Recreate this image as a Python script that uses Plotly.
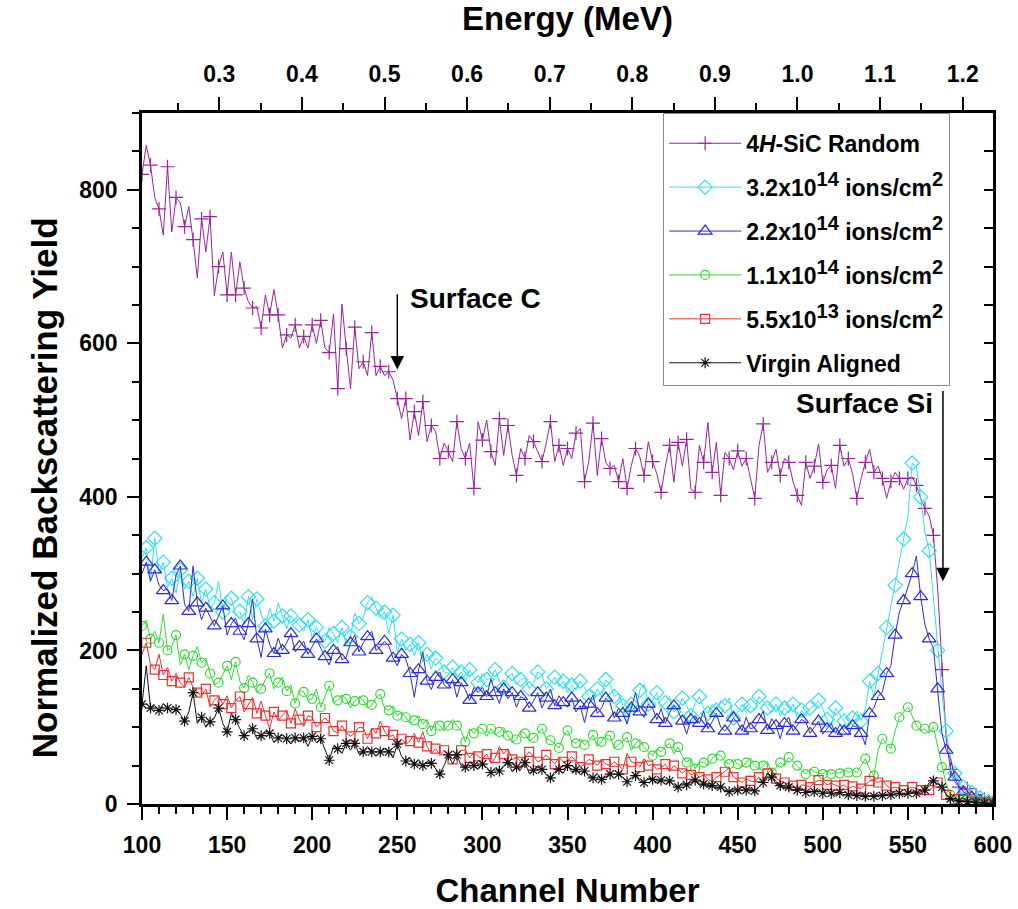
import plotly.graph_objects as go

# ---------------- data (channel step 2.5) ----------------
random_yield = [
    820, 858, 832, 790, 775, 741, 830, 745, 790, 783,
    752, 778, 735, 685, 762, 719, 765, 662, 700, 719,
    663, 719, 663, 706, 672, 654, 646, 648, 620, 663,
    637, 670, 637, 594, 611, 607, 624, 594, 609, 594,
    624, 600, 630, 594, 588, 638, 541, 651, 593, 541,
    621, 567, 576, 558, 614, 558, 570, 558, 563, 552,
    528, 502, 528, 474, 511, 480, 524, 472, 493, 485,
    450, 470, 459, 446, 498, 463, 450, 470, 411, 498,
    474, 500, 459, 441, 502, 454, 493, 454, 428, 463,
    450, 480, 472, 459, 446, 470, 498, 446, 467, 441,
    463, 450, 483, 489, 420, 446, 496, 428, 476, 445,
    437, 441, 420, 450, 411, 441, 463, 452, 428, 472,
    446, 430, 406, 440, 467, 419, 471, 440, 475, 410,
    406, 467, 445, 497, 432, 471, 402, 458, 450, 435,
    460, 440, 450, 424, 398, 467, 495, 432, 445, 462,
    428, 450, 445, 420, 402, 389, 445, 424, 440, 469,
    419, 435, 441, 411, 467, 440, 450, 430, 398, 424,
    445, 462, 432, 440, 424, 398, 420, 432, 424, 410,
    424, 426, 415, 398, 385, 375, 350, 280, 175, 85,
    45, 29, 22, 18, 20, 16, 12, 8, 6, 3,
    2]

dose_32e14 = [
    320, 334, 290, 346, 300, 315, 282, 294, 275, 305,
    280, 290, 270, 294, 262, 280, 255, 262, 290, 250,
    272, 268, 245, 251, 234, 270, 240, 267, 248, 232,
    255, 238, 262, 245, 228, 245, 238, 233, 225, 240,
    216, 230, 218, 212, 230, 222, 210, 230, 206, 218,
    249, 235, 243, 262, 270, 255, 242, 250, 222, 246,
    198, 215, 200, 208, 193, 210, 185, 195, 176, 190,
    185, 172, 170, 178, 164, 172, 160, 175, 165, 158,
    170, 162, 164, 175, 160, 152, 166, 170, 155, 162,
    164, 150, 158, 172, 168, 150, 157, 165, 153, 160,
    145, 155, 148, 160, 152, 140, 136, 150, 140, 162,
    156, 140, 144, 128, 105, 130, 119, 148, 156, 130,
    135, 145, 124, 132, 140, 120, 124, 138, 128, 115,
    131, 140, 125, 118, 130, 122, 135, 128, 138, 112,
    119, 130, 119, 128, 122, 140, 134, 125, 119, 130,
    115, 125, 118, 130, 111, 122, 115, 125, 128, 135,
    124, 110, 102, 125, 117, 108, 98, 112, 121, 108,
    124, 160, 140, 170, 197, 230, 257, 285, 320, 345,
    375, 444, 439, 400, 354, 330, 268, 200, 145, 95,
    60, 40, 28, 22, 18, 15, 12, 8, 5, 3,
    2]

dose_22e14 = [
    300, 315, 290, 305, 285, 278, 280, 265, 298, 310,
    260, 251, 310, 262, 240, 255, 244, 232, 245, 258,
    220, 235, 242, 225, 214, 235, 267, 215, 191, 228,
    208, 196, 216, 200, 210, 222, 198, 205, 212, 195,
    205, 215, 203, 192, 181, 200, 205, 188, 191, 210,
    220, 198, 210, 218, 225, 200, 205, 212, 206, 190,
    180, 195, 189, 170, 139, 175, 198, 160, 149, 165,
    172, 155, 151, 162, 139, 158, 149, 135, 152, 145,
    152, 140, 163, 145, 131, 150, 137, 145, 126, 140,
    137, 125, 134, 145, 125, 138, 150, 128, 141, 132,
    126, 138, 120, 128, 106, 130, 142, 118, 125, 138,
    132, 112, 125, 118, 104, 125, 145, 120, 113, 130,
    125, 110, 124, 105, 119, 128, 121, 108, 91, 110,
    115, 105, 121, 98, 107, 118, 100, 95, 102, 112,
    106, 95, 113, 98, 100, 110, 121, 96, 111, 102,
    85, 105, 113, 95, 102, 110, 107, 92, 100, 108,
    91, 98, 105, 92, 104, 95, 90, 102, 100, 92,
    77, 118, 125, 140, 146, 170, 180, 220, 250, 265,
    282, 300, 323, 270, 234, 215, 203, 150, 92, 70,
    59, 35, 22, 16, 12, 9, 6, 4, 3, 2,
    1]

dose_11e14 = [
    232, 239, 215, 225, 210, 247, 200, 205, 220, 181,
    195, 175, 193, 205, 184, 190, 170, 155, 158, 170,
    180, 162, 185, 160, 151, 168, 158, 145, 150, 162,
    170, 150, 158, 165, 147, 155, 131, 148, 146, 135,
    137, 150, 126, 140, 154, 132, 135, 142, 137, 125,
    134, 140, 135, 125, 129, 138, 143, 125, 122, 128,
    115, 120, 113, 105, 109, 115, 104, 110, 95, 108,
    102, 95, 102, 110, 102, 95, 81, 98, 92, 100,
    98, 88, 98, 90, 94, 100, 89, 80, 84, 95,
    92, 82, 86, 92, 98, 85, 83, 78, 73, 88,
    96, 82, 79, 85, 77, 82, 90, 75, 81, 90,
    89, 72, 77, 82, 87, 70, 79, 84, 74, 68,
    63, 72, 68, 75, 79, 65, 74, 62, 54, 60,
    46, 55, 54, 50, 59, 65, 63, 55, 52, 58,
    52, 48, 54, 60, 50, 45, 50, 55, 41, 48,
    54, 50, 61, 55, 50, 45, 39, 46, 42, 40,
    39, 44, 39, 42, 40, 45, 41, 44, 41, 50,
    59, 45, 37, 70, 85, 78, 72, 95, 113, 120,
    126, 115, 102, 95, 98, 92, 100, 75, 48, 25,
    12, 10, 8, 7, 6, 5, 5, 4, 3, 2,
    1]

dose_55e13 = [
    195, 210, 182, 175, 195, 168, 178, 160, 170, 158,
    152, 165, 152, 145, 141, 150, 126, 135, 141, 130,
    141, 125, 135, 140, 120, 130, 139, 118, 134, 115,
    98, 120, 109, 115, 122, 105, 124, 110, 101, 115,
    113, 100, 106, 112, 107, 95, 93, 102, 93, 88,
    93, 100, 99, 85, 99, 92, 108, 95, 87, 90,
    80, 85, 78, 82, 92, 80, 94, 75, 66, 72,
    64, 70, 64, 58, 64, 70, 70, 60, 67, 62,
    59, 65, 53, 60, 75, 65, 72, 58, 61, 55,
    62, 68, 62, 55, 58, 64, 58, 52, 61, 55,
    56, 62, 56, 48, 52, 58, 56, 50, 58, 52,
    50, 55, 50, 45, 66, 55, 53, 48, 59, 50,
    52, 45, 47, 52, 42, 50, 45, 40, 45, 38,
    40, 35, 38, 32, 29, 35, 38, 42, 47, 35,
    31, 28, 33, 30, 29, 35, 29, 40, 45, 33,
    30, 28, 27, 24, 20, 25, 24, 22, 28, 31,
    30, 25, 27, 24, 22, 25, 20, 23, 22, 20,
    25, 30, 31, 28, 31, 24, 20, 22, 20, 18,
    20, 22, 20, 18, 22, 18, 22, 28, 22, 12,
    8, 6, 5, 5, 4, 3, 3, 2, 2, 1,
    1]

virgin_aligned = [
    130, 180, 125, 128, 122, 131, 125, 118, 123, 117,
    108, 120, 145, 105, 113, 100, 107, 112, 125, 105,
    94, 118, 110, 98, 89, 95, 98, 85, 89, 95,
    92, 80, 86, 90, 85, 78, 86, 82, 86, 75,
    88, 80, 85, 72, 57, 75, 72, 66, 79, 70,
    79, 65, 68, 75, 68, 62, 68, 72, 68, 60,
    78, 62, 56, 60, 52, 58, 50, 55, 53, 46,
    39, 50, 64, 52, 64, 50, 48, 55, 50, 45,
    52, 48, 41, 46, 43, 50, 54, 42, 48, 45,
    54, 40, 44, 48, 45, 38, 34, 42, 45, 40,
    50, 42, 45, 38, 43, 36, 34, 40, 32, 36,
    39, 33, 39, 35, 29, 34, 37, 30, 28, 34,
    32, 28, 31, 26, 30, 24, 22, 27, 25, 28,
    31, 24, 26, 22, 24, 20, 22, 18, 16, 20,
    18, 22, 18, 20, 17, 22, 28, 40, 35, 26,
    24, 20, 22, 18, 18, 20, 15, 17, 16, 18,
    14, 16, 14, 12, 15, 12, 12, 14, 11, 12,
    10, 11, 10, 12, 11, 13, 12, 13, 14, 12,
    14, 15, 14, 16, 18, 28, 30, 26, 22, 12,
    7, 5, 4, 3, 3, 2, 2, 2, 1, 1,
    1]

# channel grid of the spectra (first channel 100, step 2.5)
channel = [100 + 2.5 * i for i in range(len(random_yield))]

SUP = '<sup><span style="font-size:20px">{}</span></sup>'
series_names = [
    "4<i>H</i>-SiC Random",
    "3.2x10" + SUP.format("14") + " ions/cm" + SUP.format("2"),
    "2.2x10" + SUP.format("14") + " ions/cm" + SUP.format("2"),
    "1.1x10" + SUP.format("14") + " ions/cm" + SUP.format("2"),
    "5.5x10" + SUP.format("13") + " ions/cm" + SUP.format("2"),
    "Virgin Aligned",
]
series_values = [random_yield, dose_32e14, dose_22e14, dose_11e14, dose_55e13, virgin_aligned]

channel_range = [100, 600]
yield_range = [0, 900]
energy_range = [0.2064, 1.2367]          # top axis (MeV) spanning channels 100..600
annotation_text = ["Surface C", "Surface Si"]

# ---------------- styles ----------------
colors = ["#9a249a", "#2ee0ee", "#2a2ad8", "#2edc2e", "#ec3030", "#101010"]
symbols = ["cross-thin-open", "diamond-open", "triangle-up-open", "circle-open",
           "square-open", "asterisk-open"]
msizes = [10, 11, 12, 9, 9, 9]

FONT = "Liberation Sans, Arial, sans-serif"

fig = go.Figure()
for name, vals, col, sym, ms in zip(series_names, series_values, colors, symbols, msizes):
    fig.add_trace(go.Scatter(
        x=channel, y=vals, name=name, legendgroup=name,
        mode="lines+markers",
        line=dict(color=col, width=1),
        marker=dict(symbol=sym, size=ms, color=col, maxdisplayed=101,
                    line=dict(color=col, width=1.2)),
    ))

# empty traces so that the top (energy) and right axes are drawn
fig.add_trace(go.Scatter(x=[None], y=[None], xaxis="x2", yaxis="y", mode="lines",
                         showlegend=False, hoverinfo="skip"))
fig.add_trace(go.Scatter(x=[None], y=[None], xaxis="x", yaxis="y2", mode="lines",
                         showlegend=False, hoverinfo="skip"))

axis_common = dict(showgrid=False, zeroline=False, showline=True, linecolor="black",
                   linewidth=2.5, tickcolor="black", tickwidth=2, automargin=False,
                   tickfont=dict(family=FONT, size=23, color="black", weight="bold"))

fig.update_layout(
    width=1018, height=909,
    margin=dict(l=142, r=25, t=113, b=105),
    paper_bgcolor="white", plot_bgcolor="white",
    font=dict(family=FONT, color="black"),
    xaxis=dict(range=channel_range, tick0=0, dtick=50, ticks="outside", ticklen=13,
               ticklabelstandoff=6,
               minor=dict(dtick=10, ticklen=7, tickwidth=2, tickcolor="black", ticks="outside"),
               title=dict(text="Channel Number", standoff=22,
                          font=dict(family=FONT, size=33, color="black", weight="bold")),
               **axis_common),
    xaxis2=dict(range=energy_range, overlaying="x", side="top", anchor="y",
                tick0=0, dtick=0.1, tickformat=".1f", ticks="outside", ticklen=13,
                ticklabelstandoff=6,
                minor=dict(dtick=0.05, ticklen=7, tickwidth=2, tickcolor="black", ticks="outside"),
                title=dict(text="Energy (MeV)", standoff=22,
                           font=dict(family=FONT, size=33, color="black", weight="bold")),
                **axis_common),
    yaxis=dict(range=yield_range, tick0=0, dtick=200, ticks="outside", ticklen=12,
               ticklabelstandoff=5,
               minor=dict(dtick=50, ticklen=7, tickwidth=2, tickcolor="black", ticks="outside"),
               **axis_common),
    yaxis2=dict(range=yield_range, overlaying="y", side="right", anchor="x",
                tick0=0, dtick=50, ticks="inside", ticklen=9, showticklabels=False,
                **axis_common),
    legend=dict(x=0.6124, y=1, xanchor="left", yanchor="top",
                bordercolor="#8a8a8a", borderwidth=1, bgcolor="white",
                font=dict(family=FONT, size=23, color="black", weight="bold"),
                title=dict(text=" ", font=dict(size=6)),
                itemwidth=72, tracegroupgap=11, traceorder="grouped"),
    annotations=[
        dict(x=-0.1136, y=0.4575, xref="paper", yref="paper",
             text="Normalized Backscattering Yield", textangle=-90, showarrow=False,
             xanchor="center", yanchor="middle",
             font=dict(family=FONT, size=35, color="black", weight="bold")),
        dict(x=296, y=658, xref="x", yref="y", text=annotation_text[0], showarrow=False,
             xanchor="center", yanchor="middle",
             font=dict(family=FONT, size=28, color="black", weight="bold")),
        dict(x=250, y=566, ax=250, ay=666, xref="x", yref="y", axref="x", ayref="y",
             text="", showarrow=True, arrowhead=2, arrowsize=1.8, arrowwidth=1.5,
             arrowcolor="black"),
        dict(x=524.4, y=521, xref="x", yref="y", text=annotation_text[1], showarrow=False,
             xanchor="center", yanchor="middle",
             font=dict(family=FONT, size=28, color="black", weight="bold")),
        dict(x=570.6, y=290, ax=570.6, ay=540, xref="x", yref="y", axref="x", ayref="y",
             text="", showarrow=True, arrowhead=2, arrowsize=1.8, arrowwidth=1.5,
             arrowcolor="black"),
    ],
)

fig.write_html("out.html")
